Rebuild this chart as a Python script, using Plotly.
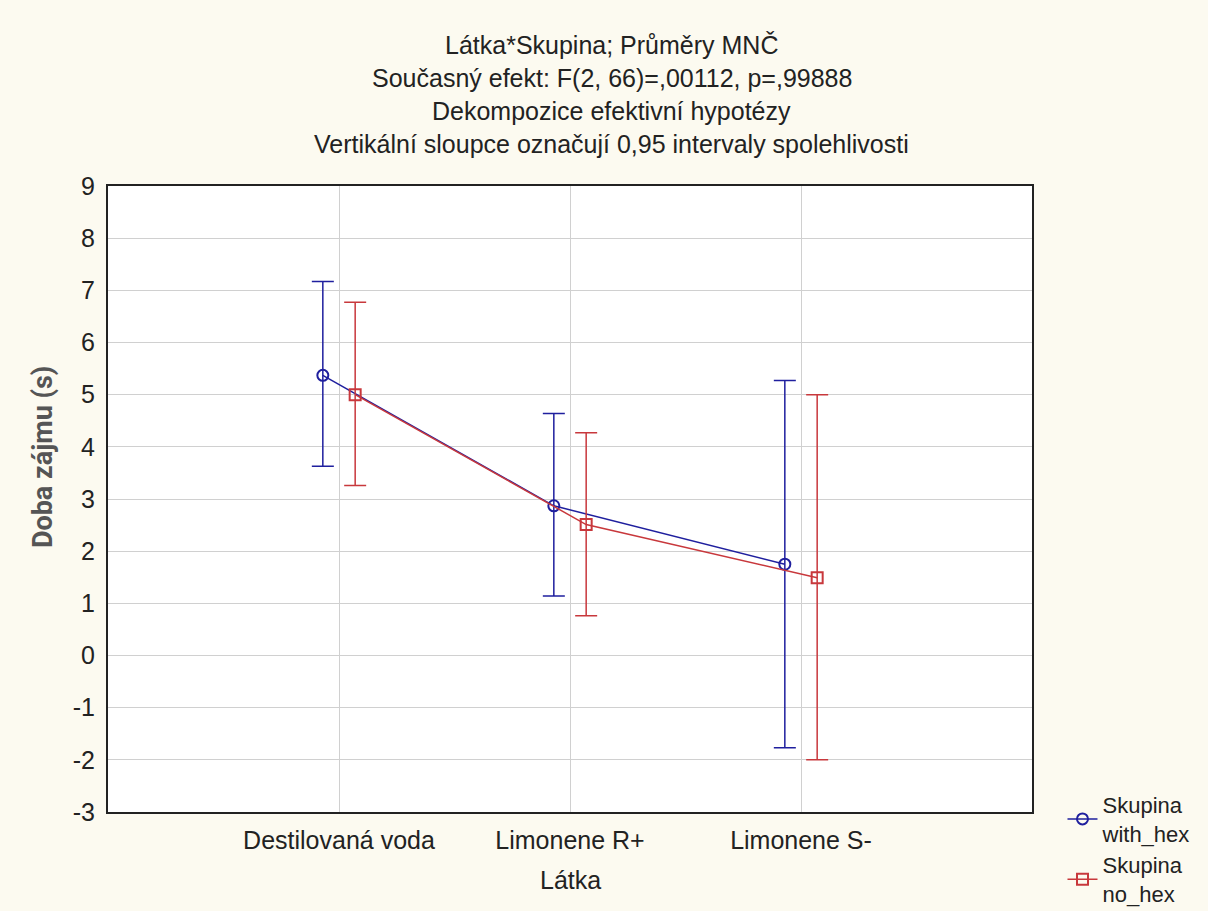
import plotly.graph_objects as go

categories = ["Destilovaná voda", "Limonene R+", "Limonene S-"]
with_hex_mean = [5.37, 2.87, 1.75]
with_hex_upper = [7.17, 4.64, 5.27]
with_hex_lower = [3.63, 1.14, -1.77]
no_hex_mean = [5.00, 2.51, 1.49]
no_hex_upper = [6.77, 4.27, 5.00]
no_hex_lower = [3.26, 0.76, -2.00]
y_ticks = [9, 8, 7, 6, 5, 4, 3, 2, 1, 0, -1, -2, -3]

offset = 0.07
xpos = list(range(len(categories)))
BLUE = "#1f1f9e"
RED = "#c8383c"
FONT = "Liberation Sans, Arial, sans-serif"
TXT = "#222222"

fig = go.Figure()
fig.add_trace(go.Scatter(
    x=[x - offset for x in xpos], y=with_hex_mean, mode="lines+markers",
    name="Skupina<br>with_hex",
    line=dict(color=BLUE, width=1.5),
    marker=dict(symbol="circle-open", size=11, color=BLUE, line=dict(width=2)),
    error_y=dict(type="data", symmetric=False,
                 array=[u - m for u, m in zip(with_hex_upper, with_hex_mean)],
                 arrayminus=[m - l for m, l in zip(with_hex_mean, with_hex_lower)],
                 color=BLUE, thickness=1.5, width=11),
))
fig.add_trace(go.Scatter(
    x=[x + offset for x in xpos], y=no_hex_mean, mode="lines+markers",
    name="Skupina<br>no_hex",
    line=dict(color=RED, width=1.5),
    marker=dict(symbol="square-open", size=11, color=RED, line=dict(width=2)),
    error_y=dict(type="data", symmetric=False,
                 array=[u - m for u, m in zip(no_hex_upper, no_hex_mean)],
                 arrayminus=[m - l for m, l in zip(no_hex_mean, no_hex_lower)],
                 color=RED, thickness=1.5, width=11),
))

title_lines = [
    "Látka*Skupina; Průměry MNČ",
    "Současný efekt: F(2, 66)=,00112, p=,99888",
    "Dekompozice efektivní hypotézy",
    "Vertikální sloupce označují 0,95 intervaly spolehlivosti",
]
for i, t in enumerate(title_lines):
    fig.add_annotation(text=t, xref="paper", yref="paper", x=0.545, y=1.0,
                       yshift=141 - 33 * i, xanchor="center", yanchor="middle",
                       showarrow=False, font=dict(family=FONT, size=25, color=TXT))

fig.add_annotation(text="<b>Doba zájmu (s)</b>", xref="paper", yref="paper",
                   x=-0.0703, y=0.567, xanchor="center", yanchor="middle",
                   textangle=-90, showarrow=False,
                   font=dict(family="Roboto, Liberation Sans, sans-serif", size=27, color="#555555"))

fig.add_annotation(text="Látka", xref="paper", yref="paper",
                   x=0.5, y=0.0, yshift=-68, xanchor="center", yanchor="middle",
                   showarrow=False, font=dict(family=FONT, size=25, color=TXT))

fig.update_layout(
    width=1208, height=911,
    paper_bgcolor="#fcfaf0", plot_bgcolor="#ffffff",
    margin=dict(l=108, r=176, t=186, b=99, autoexpand=False),
    font=dict(family=FONT, size=25, color=TXT),
    showlegend=True,
    legend=dict(x=1.033, y=0.045, xanchor="left", yanchor="top",
                bgcolor="rgba(0,0,0,0)", font=dict(size=22, color=TXT),
                tracegroupgap=0, itemwidth=30),
    xaxis=dict(range=[-1, 3], tickmode="array", tickvals=xpos, ticktext=categories,
               showgrid=True, gridcolor="#d0d0d0", gridwidth=1, zeroline=False,
               showline=True, linecolor="#222222", linewidth=2, mirror=True,
               ticks="", ticklabelstandoff=5, tickfont=dict(size=25),
               automargin=False),
    yaxis=dict(range=[-3, 9], tickmode="array", tickvals=y_ticks,
               ticktext=[str(v) for v in y_ticks],
               showgrid=True, gridcolor="#d0d0d0", gridwidth=1, zeroline=False,
               showline=True, linecolor="#222222", linewidth=2, mirror=True,
               ticks="", ticklabelstandoff=6, tickfont=dict(size=25),
               automargin=False),
)

fig.write_html("out.html")
